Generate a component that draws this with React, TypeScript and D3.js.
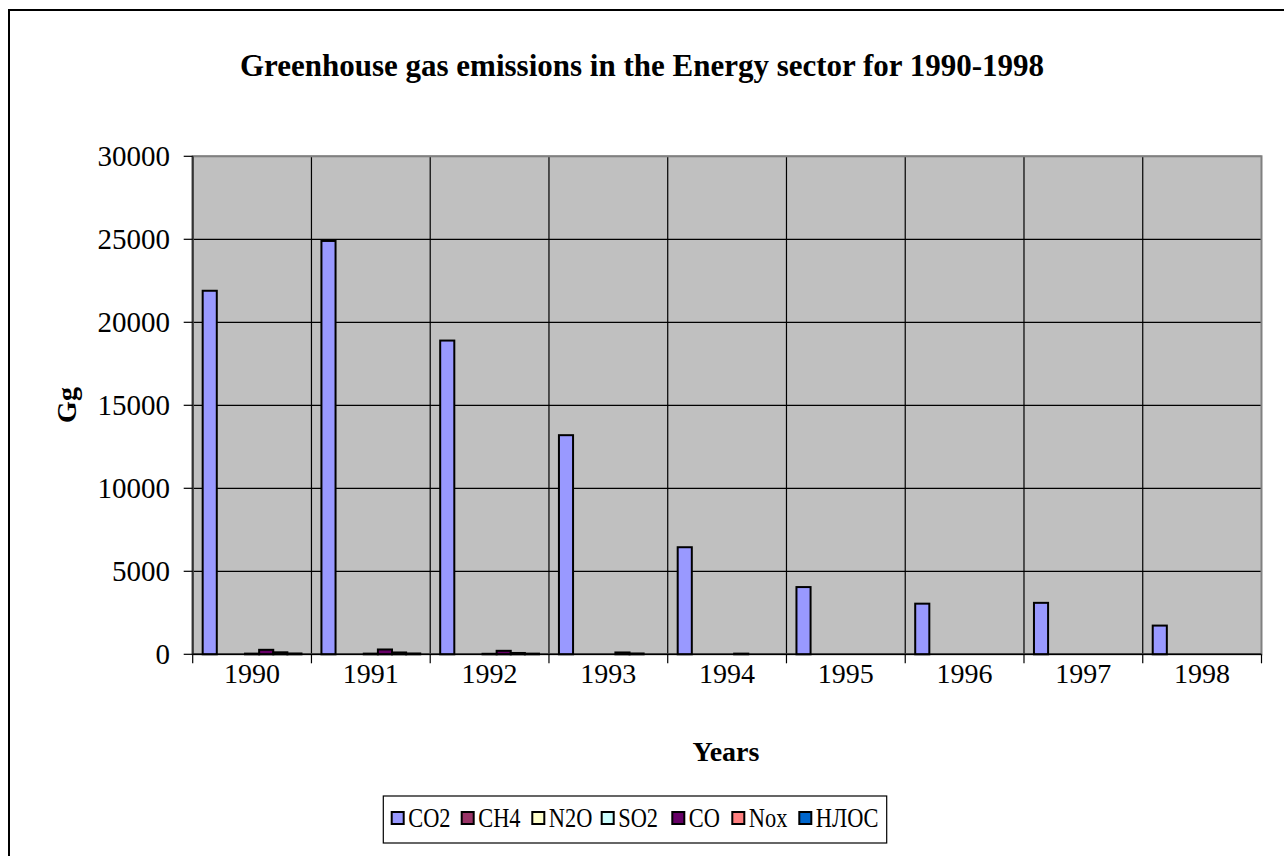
import React from 'react';
import * as d3 from 'd3';

// values in Gg
const years = ['1990', '1991', '1992', '1993', '1994', '1995', '1996', '1997', '1998'];
const gases = ['CO2', 'CH4', 'N2O', 'SO2', 'CO', 'Nox', 'НЛОС'];
const co2 = [21900, 24900, 18900, 13200, 6450, 4050, 3050, 3100, 1730];
const ch4 = [0, 0, 0, 0, 0, 0, 0, 0, 0];
const n2o = [0, 0, 0, 0, 0, 0, 0, 0, 0];
const so2 = [40, 40, 30, 0, 0, 0, 0, 0, 0];
const co = [270, 290, 210, 110, 40, 0, 0, 0, 0];
const nox = [120, 110, 80, 50, 0, 0, 0, 0, 0];
const nmvoc = [50, 50, 40, 0, 0, 0, 0, 0, 0];
const yTicks = [0, 5000, 10000, 15000, 20000, 25000, 30000];
const colors = ['#9999FF', '#993366', '#FFFFCC', '#CCFFFF', '#660066', '#FF8080', '#0066CC'];

const seriesValues = [co2, ch4, n2o, so2, co, nox, nmvoc];

const FONT = '"Liberation Serif", "Times New Roman", Times, serif';

export default function App() {
  const plot = { left: 192.7, right: 1261.5, top: 156.3, bottom: 654.3 };

  const x0 = d3.scaleBand().domain(years).range([plot.left, plot.right]).paddingInner(0).paddingOuter(0);
  const gap = x0.bandwidth() * 0.168;
  const x1 = d3.scaleBand().domain(gases).range([gap / 2, x0.bandwidth() - gap / 2]).padding(0);
  const y = d3.scaleLinear().domain([0, 30000]).range([plot.bottom, plot.top]);

  const legendX = [391.7, 461.7, 532.3, 601.7, 672.3, 732.3, 799.3];

  return (
    <svg
      width={1284}
      height={856}
      style={{ position: 'absolute', left: 0, top: 0, background: '#fff', fontFamily: FONT }}
    >
      {/* chart border, runs off the right/bottom of the picture */}
      <rect x={9} y={10} width={1400} height={1000} fill="#fff" stroke="#000" strokeWidth={2} />

      <text x={642} y={76} textAnchor="middle" fontWeight="bold" fontSize={31}>
        Greenhouse gas emissions in the Energy sector for 1990-1998
      </text>

      {/* plot area */}
      <rect x={plot.left} y={plot.top} width={plot.right - plot.left} height={plot.bottom - plot.top} fill="#C0C0C0" />

      {/* horizontal gridlines */}
      {yTicks.map((t) => (
        <line key={'h' + t} x1={plot.left} x2={plot.right} y1={y(t)} y2={y(t)} stroke="#000" strokeWidth={1.2} />
      ))}
      {/* vertical gridlines at category boundaries */}
      {years.map((yr) => (
        <line key={'v' + yr} x1={x0(yr)} x2={x0(yr)} y1={plot.top} y2={plot.bottom} stroke="#000" strokeWidth={1.2} />
      ))}

      <rect x={plot.left} y={plot.top} width={plot.right - plot.left} height={plot.bottom - plot.top} fill="none" stroke="#808080" strokeWidth={2} />

      {/* bars */}
      {seriesValues.map((vals, si) =>
        vals.map((v, yi) =>
          v > 0 ? (
            <rect
              key={gases[si] + years[yi]}
              x={(x0(years[yi]) as number) + (x1(gases[si]) as number)}
              y={y(v)}
              width={x1.bandwidth()}
              height={y(0) - y(v)}
              fill={colors[si]}
              stroke="#000"
              strokeWidth={2}
            />
          ) : null
        )
      )}

      {/* y axis */}
      <line x1={plot.left} x2={plot.left} y1={plot.top} y2={plot.bottom} stroke="#333" strokeWidth={2} />
      {yTicks.map((t) => (
        <g key={'yt' + t}>
          <line x1={plot.left - 9} x2={plot.left} y1={y(t)} y2={y(t)} stroke="#000" strokeWidth={1.2} />
          <text x={170} y={y(t) + 10} textAnchor="end" fontSize={29}>
            {t}
          </text>
        </g>
      ))}

      {/* x axis */}
      <line x1={plot.left} x2={plot.right} y1={plot.bottom} y2={plot.bottom} stroke="#000" strokeWidth={1.5} />
      {years.map((yr) => (
        <line key={'xt' + yr} x1={x0(yr)} x2={x0(yr)} y1={plot.bottom} y2={plot.bottom + 9} stroke="#000" strokeWidth={1.2} />
      ))}
      <line x1={plot.right} x2={plot.right} y1={plot.bottom} y2={plot.bottom + 9} stroke="#000" strokeWidth={1.2} />
      {years.map((yr) => (
        <text key={'xl' + yr} x={(x0(yr) as number) + x0.bandwidth() / 2} y={683} textAnchor="middle" fontSize={28}>
          {yr}
        </text>
      ))}

      <text x={726} y={761} textAnchor="middle" fontWeight="bold" fontSize={28}>
        Years
      </text>
      <text transform="translate(76,405) rotate(-90)" textAnchor="middle" fontWeight="bold" fontSize={28}>
        Gg
      </text>

      {/* legend */}
      <rect x={383.3} y={796} width={503.4} height={47} fill="#fff" stroke="#000" strokeWidth={1.2} />
      {gases.map((g, i) => (
        <g key={'lg' + g}>
          <rect x={legendX[i]} y={812} width={12} height={12} fill={colors[i]} stroke="#000" strokeWidth={2} />
          <text transform={`translate(${legendX[i] + 16.5},827) scale(0.8,1)`} fontSize={28}>
            {g}
          </text>
        </g>
      ))}
    </svg>
  );
}
